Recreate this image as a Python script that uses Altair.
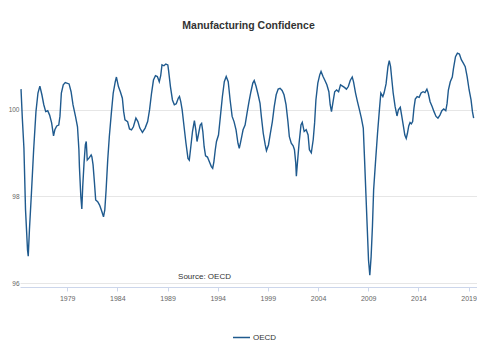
import altair as alt
import pandas as pd

FONT = "Liberation Sans"

years = [
    1974.40, 1974.53, 1974.69, 1974.85, 1975.05, 1975.12, 1975.24, 1975.44, 1975.66, 1975.89,
    1976.09, 1976.28, 1976.48, 1976.67, 1976.86, 1977.06, 1977.25, 1977.45, 1977.64, 1977.77,
    1977.96, 1978.16, 1978.28, 1978.42, 1978.61, 1978.81, 1979.19, 1979.39, 1979.58, 1979.83,
    1980.03, 1980.17, 1980.22, 1980.36, 1980.46, 1980.55, 1980.68, 1980.81, 1980.90, 1981.00,
    1981.19, 1981.39, 1981.46, 1981.58, 1981.72, 1981.84, 1982.04, 1982.23, 1982.43, 1982.62,
    1982.75, 1982.88, 1983.04, 1983.20, 1983.40, 1983.59, 1983.79, 1983.91, 1984.11, 1984.30,
    1984.50, 1984.63, 1984.76, 1985.02, 1985.21, 1985.41, 1985.60, 1985.85, 1986.05, 1986.24,
    1986.50, 1986.77, 1987.02, 1987.21, 1987.41, 1987.60, 1987.80, 1987.99, 1988.18, 1988.32,
    1988.45, 1988.64, 1988.83, 1989.03, 1989.10, 1989.29, 1989.49, 1989.68, 1989.87, 1990.07,
    1990.19, 1990.32, 1990.46, 1990.65, 1990.84, 1991.04, 1991.17, 1991.29, 1991.49, 1991.68,
    1991.82, 1991.94, 1992.07, 1992.26, 1992.40, 1992.52, 1992.65, 1992.79, 1992.98, 1993.17,
    1993.37, 1993.50, 1993.62, 1993.76, 1993.88, 1994.08, 1994.27, 1994.47, 1994.66, 1994.85,
    1995.05, 1995.24, 1995.44, 1995.63, 1995.83, 1996.02, 1996.15, 1996.28, 1996.41, 1996.53,
    1996.73, 1996.92, 1997.12, 1997.31, 1997.50, 1997.64, 1997.83, 1998.03, 1998.22, 1998.35,
    1998.54, 1998.74, 1998.86, 1999.06, 1999.25, 1999.45, 1999.64, 1999.83, 2000.03, 2000.22,
    2000.42, 2000.61, 2000.81, 2001.00, 2001.14, 2001.33, 2001.52, 2001.65, 2001.78, 2001.84,
    2001.97, 2002.11, 2002.30, 2002.43, 2002.62, 2002.82, 2003.01, 2003.14, 2003.33, 2003.52,
    2003.66, 2003.79, 2003.98, 2004.17, 2004.30, 2004.50, 2004.69, 2004.88, 2005.08, 2005.21,
    2005.34, 2005.47, 2005.66, 2005.85, 2006.05, 2006.24, 2006.44, 2006.63, 2006.83, 2007.02,
    2007.21, 2007.41, 2007.54, 2007.74, 2007.93, 2008.13, 2008.32, 2008.51, 2008.64, 2008.77,
    2008.90, 2009.03, 2009.16, 2009.29, 2009.42, 2009.54, 2009.74, 2009.93, 2010.13, 2010.26,
    2010.46, 2010.58, 2010.78, 2010.97, 2011.10, 2011.23, 2011.36, 2011.49, 2011.68, 2011.87,
    2012.01, 2012.20, 2012.33, 2012.52, 2012.65, 2012.79, 2012.91, 2013.04, 2013.17, 2013.30,
    2013.43, 2013.56, 2013.69, 2013.88, 2014.08, 2014.27, 2014.47, 2014.66, 2014.85, 2014.98,
    2015.17, 2015.37, 2015.56, 2015.76, 2015.95, 2016.15, 2016.34, 2016.53, 2016.73, 2016.86,
    2016.99, 2017.18, 2017.38, 2017.50, 2017.70, 2017.89, 2018.09, 2018.28, 2018.48, 2018.67,
    2018.86, 2019.06, 2019.25, 2019.39, 2019.51,
]

values = [
    100.48, 99.81, 99.12, 97.69, 96.76, 96.62, 97.23, 98.08, 99.08, 99.96,
    100.39, 100.55, 100.35, 100.12, 99.96, 99.98, 99.88, 99.70, 99.40, 99.54,
    99.63, 99.65, 99.85, 100.39, 100.58, 100.63, 100.60, 100.42, 100.12, 99.85,
    99.61, 99.08, 98.69, 98.00, 97.71, 98.23, 98.77, 99.19, 99.27, 98.84,
    98.89, 98.96, 98.92, 98.73, 98.31, 97.92, 97.88, 97.80, 97.67, 97.53,
    97.69, 98.15, 98.84, 99.38, 99.92, 100.39, 100.65, 100.76, 100.54, 100.42,
    100.27, 99.96, 99.77, 99.73, 99.56, 99.54, 99.61, 99.81, 99.73, 99.58,
    99.48, 99.58, 99.73, 100.00, 100.39, 100.69, 100.79, 100.77, 100.65, 100.79,
    101.04, 101.02, 101.06, 101.04, 100.92, 100.54, 100.23, 100.12, 100.14, 100.27,
    100.31, 100.19, 100.00, 99.61, 99.23, 98.88, 98.84, 99.08, 99.50, 99.75,
    99.54, 99.27, 99.42, 99.65, 99.69, 99.50, 99.15, 98.94, 98.91, 98.80,
    98.69, 98.65, 98.80, 99.08, 99.27, 99.42, 99.85, 100.31, 100.65, 100.77,
    100.65, 100.23, 99.85, 99.73, 99.54, 99.23, 99.11, 99.25, 99.40, 99.54,
    99.65, 99.92, 100.19, 100.42, 100.62, 100.68, 100.54, 100.35, 100.15, 99.85,
    99.46, 99.19, 99.06, 99.19, 99.46, 99.73, 100.08, 100.35, 100.48, 100.50,
    100.45, 100.35, 100.12, 99.73, 99.38, 99.23, 99.17, 99.08, 98.77, 98.47,
    98.84, 99.23, 99.65, 99.71, 99.50, 99.54, 99.42, 99.08, 99.01, 99.31,
    99.70, 100.23, 100.62, 100.81, 100.89, 100.77, 100.68, 100.58, 100.42, 100.12,
    99.96, 100.15, 100.42, 100.46, 100.42, 100.58, 100.55, 100.52, 100.48, 100.54,
    100.68, 100.76, 100.65, 100.39, 100.19, 100.00, 99.81, 99.58, 98.84, 98.07,
    97.30, 96.53, 96.18, 96.61, 97.30, 98.15, 98.84, 99.46, 100.04, 100.39,
    100.31, 100.39, 100.60, 101.00, 101.14, 101.00, 100.69, 100.39, 100.08, 99.86,
    100.00, 100.06, 99.88, 99.61, 99.42, 99.34, 99.46, 99.63, 99.71, 99.68,
    99.73, 100.04, 100.25, 100.31, 100.29, 100.39, 100.42, 100.40, 100.48, 100.39,
    100.19, 100.08, 99.96, 99.85, 99.81, 99.88, 99.98, 100.02, 99.98, 100.15,
    100.46, 100.65, 100.76, 100.96, 101.23, 101.31, 101.29, 101.16, 101.08, 101.00,
    100.77, 100.46, 100.23, 99.96, 99.81,
]

tick_years = [1979, 1984, 1989, 1994, 1999, 2004, 2009, 2014, 2019]
y_ticks = [96, 98, 100]
series_name = "OECD"
title_text = "Manufacturing Confidence"
source_text = "Source: OECD"
line_color = "#1f5a8e"


def to_date(y):
    yr = int(y)
    start = pd.Timestamp(year=yr, month=1, day=1)
    end = pd.Timestamp(year=yr + 1, month=1, day=1)
    return start + (end - start) * (y - yr)


df = pd.DataFrame({
    "date": [to_date(y) for y in years],
    "value": values,
    "series": series_name,
})

x_scale = alt.Scale(domain=[alt.DateTime(year=1974, month=4, date=20),
                            alt.DateTime(year=2019, month=11, date=5)])

line = alt.Chart(df).mark_line(strokeWidth=1.4).encode(
    x=alt.X("date:T", scale=x_scale,
            axis=alt.Axis(values=[alt.DateTime(year=y, month=1, date=1) for y in tick_years],
                          format="%Y", title=None, grid=False,
                          domainColor="#ccd6eb", tickColor="#ccd6eb", tickSize=4,
                          labelFontSize=7, labelColor="#666666", labelPadding=3,
                          labelFlush=False, offset=4, labelFont=FONT)),
    y=alt.Y("value:Q", scale=alt.Scale(domain=[96, 101.5], nice=False, zero=False),
            axis=alt.Axis(values=y_ticks, title=None, domain=False, ticks=False,
                          gridColor="#e6e6e6", labelFontSize=6.5, labelColor="#666666",
                          labelPadding=1, labelFont=FONT)),
    color=alt.Color("series:N", scale=alt.Scale(domain=[series_name], range=[line_color]),
                    legend=alt.Legend(title=None, orient="none", legendX=212, legendY=283,
                                      symbolType="stroke", symbolSize=289,
                                      symbolStrokeWidth=1.5, labelFontSize=8,
                                      labelColor="#333333", labelOffset=2,
                                      direction="horizontal", labelFont=FONT)),
)

src_df = pd.DataFrame({"label": [source_text]})
source = alt.Chart(src_df).mark_text(fontSize=8, color="#333333", align="center",
                                     baseline="middle", font=FONT).encode(
    x=alt.value(184.5), y=alt.value(232), text="label:N"
)

chart = alt.layer(line, source).properties(
    width=457,
    height=238,
    autosize=alt.AutoSizeParams(type="none"),
    padding={"left": 12, "top": 37, "right": 0, "bottom": 65},
    title=alt.Title(title_text, fontSize=10.5, fontWeight="bold", color="#333333",
                    font=FONT, anchor="middle", frame="group", offset=14),
).configure(font=FONT).configure_view(stroke=None)

chart.save("out.html", embed_options={"renderer": "svg", "actions": False})
